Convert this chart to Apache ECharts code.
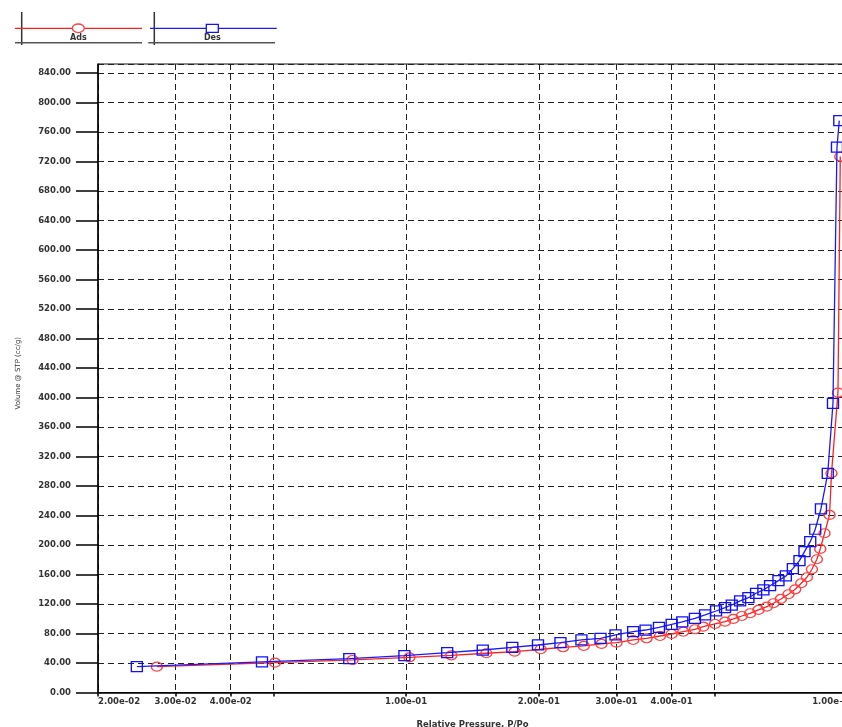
<!DOCTYPE html>
<html>
<head>
<meta charset="utf-8">
<script src="https://cdn.jsdelivr.net/npm/echarts@6/dist/echarts.min.js"></script>
<style>html,body{margin:0;padding:0;background:#fff;}#chart{width:842px;height:727px;}</style>
</head>
<body>
<div id="chart"></div>
<script>
// ---- data ----
const adsP = [0.0272,0.0504,0.0756,0.1017,0.1266,0.152,0.1762,0.2019,0.227,0.2529,0.2774,0.3001,0.3273,0.3511,0.3765,0.4002,0.4252,0.4519,0.4721,0.5019,0.5289,0.5523,0.5773,0.603,0.6297,0.658,0.6811,0.7079,0.7366,0.7628,0.7873,0.8111,0.8325,0.8546,0.8696,0.8893,0.9129,0.9222,0.954,0.9656];
const adsV = [35.0,40.4,44.1,47.7,50.4,53.2,55.3,58.6,61.3,63.1,65.8,67.5,71.2,73.5,76.6,79.3,82.4,85.7,89.2,92.9,96.0,99.7,103.7,107.4,111.9,116.3,121.0,126.8,133.2,139.9,148.1,156.2,167.1,180.6,194.6,215.9,240.7,297.2,406.5,726.5];
const desP = [0.0245,0.0471,0.0743,0.0991,0.1239,0.1492,0.1741,0.1991,0.2239,0.2498,0.276,0.2985,0.3273,0.3492,0.3745,0.4002,0.423,0.4519,0.4764,0.5046,0.5289,0.5478,0.5722,0.5975,0.622,0.6461,0.6691,0.699,0.7266,0.7537,0.7802,0.801,0.8253,0.8471,0.8727,0.9044,0.9294,0.949,0.9605];
const desV = [35.0,41.4,45.8,49.9,54.0,57.6,61.3,64.4,67.5,71.2,73.5,78.0,82.4,84.7,88.4,92.5,95.6,100.6,105.1,110.5,115.0,118.6,124.1,128.5,134.5,139.0,144.8,151.6,158.0,167.9,178.7,190.9,204.5,221.3,248.8,297.2,392.1,739.2,775.3];
const xTickValues = [0.02,0.03,0.04,0.05,0.1,0.2,0.3,0.4,0.5,1];
const xLabelValues = [0.02,0.03,0.04,0.1,0.2,0.3,0.4,1];
const xMin = 0.02, xMax = 1;
const yMin = 0, yMax = 852, yStep = 40;
const seriesNames = ['Ads','Des'];
const xName = 'Relative Pressure, P/Po';
const yName = 'Volume @ STP (cc/g)';

// ---- helpers ----
const lg = v => Math.log10(v);
function fmtExp(p){
  let e = Math.floor(Math.log10(p) + 1e-9);
  let m = p / Math.pow(10, e);
  const sign = e < 0 ? '-' : '+';
  const ae = Math.abs(e);
  return m.toFixed(2) + 'e' + sign + (ae < 10 ? '0' + ae : '' + ae);
}
const FONT = 'DejaVu Sans';
const TXT = '#333';

const legendGraphics = [
  // legend box 1 (Ads)
  {type: 'line', shape: {x1: 21.7, y1: 12, x2: 21.7, y2: 45}, style: {stroke: '#333', lineWidth: 1.5}},
  {type: 'line', shape: {x1: 15, y1: 42.7, x2: 142, y2: 42.7}, style: {stroke: '#555', lineWidth: 1.5}},
  {type: 'line', shape: {x1: 15, y1: 28.3, x2: 142, y2: 28.3}, style: {stroke: '#ff2020', lineWidth: 1.3}},
  {type: 'ellipse', shape: {cx: 78.3, cy: 28.3, rx: 6, ry: 4.3}, style: {fill: '#fff', stroke: '#ff4040', lineWidth: 1.3}},
  {type: 'text', x: 78.3, y: 38.3, style: {text: seriesNames[0], fontFamily: FONT, fontSize: 8, fontWeight: 'bold', fill: TXT, align: 'center', verticalAlign: 'middle'}},
  // legend box 2 (Des)
  {type: 'line', shape: {x1: 154.3, y1: 12, x2: 154.3, y2: 45}, style: {stroke: '#333', lineWidth: 1.5}},
  {type: 'line', shape: {x1: 148.3, y1: 42.7, x2: 275, y2: 42.7}, style: {stroke: '#555', lineWidth: 1.5}},
  {type: 'line', shape: {x1: 150, y1: 28.3, x2: 276.7, y2: 28.3}, style: {stroke: '#1a1aff', lineWidth: 1.3}},
  {type: 'rect', shape: {x: 206.3, y: 24.3, width: 12, height: 8}, style: {fill: '#fff', stroke: '#1010ff', lineWidth: 1.3}},
  {type: 'text', x: 212.3, y: 38.3, style: {text: seriesNames[1], fontFamily: FONT, fontSize: 8, fontWeight: 'bold', fill: TXT, align: 'center', verticalAlign: 'middle'}}
];

const chart = echarts.init(document.getElementById('chart'), null, {renderer:'canvas'});
const option = {
  backgroundColor: '#fff',
  animation: false,
  grid: {left: 98, top: 64, width: 749, height: 628.5, containLabel: false, outerBoundsMode: 'none',
         show: true, borderColor: '#111', borderWidth: 1},
  xAxis: {
    type: 'value', min: lg(xMin), max: lg(xMax), position: 'bottom',
    name: xName, nameLocation: 'middle', nameGap: 28,
    nameTextStyle: {fontFamily: FONT, fontSize: 8.5, fontWeight: 'bold', color: TXT},
    axisLine: {show: true, onZero: false, lineStyle: {color: '#000', width: 1.5}},
    axisTick: {show: true, inside: false, length: 4, customValues: xTickValues.map(lg), lineStyle: {color: '#000', width: 1.5}},
    axisLabel: {
      customValues: xLabelValues.map(lg), margin: 5,
      fontFamily: FONT, fontSize: 8.5, fontWeight: 'bold', color: TXT,
      alignMinLabel: 'left',
      formatter: v => {
        const p = Math.pow(10, v);
        const s = fmtExp(p);
        return Math.abs(v) < 1e-9 ? '{m|' + s + '}' : s;
      },
      rich: {m: {fontFamily: FONT, fontSize: 8.5, fontWeight: 'bold', color: TXT, padding: [0, 24, 0, 0]}}
    },
    splitLine: {show: true, lineStyle: {color: '#222', width: 1, type: [6, 4]}}
  },
  yAxis: {
    type: 'value', min: yMin, max: yMax, interval: yStep, position: 'left',
    name: yName, nameLocation: 'middle', nameGap: 76, nameRotate: 90,
    nameTextStyle: {fontFamily: FONT, fontSize: 7, color: TXT, padding: [0, 0, 0, 10]},
    axisLine: {show: true, onZero: false, lineStyle: {color: '#000', width: 1.5}},
    axisTick: {show: true, inside: false, length: 22, lineStyle: {color: '#000', width: 1.5}},
    axisLabel: {
      margin: 27, showMaxLabel: false,
      fontFamily: FONT, fontSize: 8.5, fontWeight: 'bold', color: TXT,
      formatter: v => v.toFixed(2)
    },
    splitLine: {show: true, lineStyle: {color: '#222', width: 1, type: [6, 4]}}
  },
  series: [
    {
      name: seriesNames[0], type: 'line',
      data: adsP.map((p, i) => [lg(p), adsV[i]]),
      symbol: 'circle', symbolSize: [11, 9],
      lineStyle: {color: '#ff2020', width: 1.3},
      itemStyle: {color: 'rgba(255,255,255,0)', borderColor: '#ff4040', borderWidth: 1.3},
      z: 3
    },
    {
      name: seriesNames[1], type: 'line',
      data: desP.map((p, i) => [lg(p), desV[i]]),
      symbol: 'rect', symbolSize: [11, 10],
      lineStyle: {color: '#1a1aff', width: 1.3},
      itemStyle: {color: 'rgba(255,255,255,0)', borderColor: '#1010ff', borderWidth: 1.3},
      z: 4
    }
  ],
  graphic: legendGraphics
};
chart.setOption(option);
</script>
</body>
</html>
